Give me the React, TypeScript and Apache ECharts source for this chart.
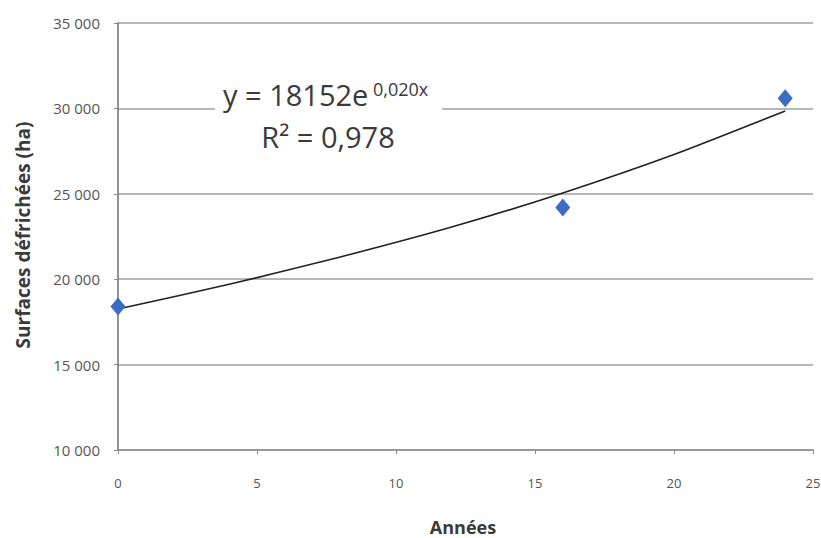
import React, { useEffect, useRef } from "react";
import * as echarts from "echarts";

// Observed data points (years, cleared surfaces in ha)
const years = [0, 16, 24];
const surfaces = [18400, 24200, 30600];

// Exponential trend line
const trendYears = [0, 4, 8, 12, 16, 20, 24];
const trendValues = [18250, 19700, 21300, 23050, 25050, 27300, 29850];

const xTicks = [0, 5, 10, 15, 20, 25];
const yTicks = [10000, 15000, 20000, 25000, 30000, 35000];

const xTitle = "Années";
const yTitle = "Surfaces défrichées (ha)";
const eqMain = "y = 18152e";
const eqExp = "0,020x";
const eqR2 = "R² = 0,978";

const FONT = "'Open Sans', 'DejaVu Sans', sans-serif";

function fmt(v: number): string {
  return String(v).replace(/\B(?=(\d{3})+(?!\d))/g, " ");
}

export default function App() {
  const ref = useRef<HTMLDivElement>(null);

  useEffect(() => {
    if (!ref.current) return;
    const chart = echarts.init(ref.current, null, { renderer: "svg" });
    const option: any = {
      animation: false,
      backgroundColor: "#ffffff",
      textStyle: { fontFamily: FONT },
      grid: {
        left: 118,
        right: 8,
        top: 23,
        bottom: 88,
        containLabel: false,
        outerBoundsMode: "none",
      },
      xAxis: {
        type: "value",
        min: xTicks[0],
        max: xTicks[xTicks.length - 1],
        interval: 5,
        axisLine: { show: true, lineStyle: { color: "#8f8f8f", width: 1.5 } },
        axisTick: { show: true, length: 4, lineStyle: { color: "#8a8a8a" } },
        axisLabel: {
          margin: 26,
          fontSize: 13,
          color: "#555555",
          fontFamily: FONT,
        },
        splitLine: { show: false },
      },
      yAxis: {
        type: "value",
        min: yTicks[0],
        max: yTicks[yTicks.length - 1],
        interval: 5000,
        axisLine: { show: true, lineStyle: { color: "#6f6f6f", width: 1.5 } },
        axisTick: { show: true, length: 4, lineStyle: { color: "#8a8a8a" } },
        axisLabel: {
          margin: 18,
          fontSize: 15,
          color: "#555555",
          fontFamily: FONT,
          formatter: (v: number) => fmt(v),
        },
        splitLine: { show: true, lineStyle: { color: "#a0a0a0", width: 1.5 } },
      },
      series: [
        {
          type: "line",
          data: trendYears.map((x, i) => [x, trendValues[i]]),
          smooth: 0.2,
          showSymbol: false,
          symbol: "none",
          lineStyle: { color: "#222222", width: 1.6, join: "round" },
          z: 3,
        },
        {
          type: "scatter",
          data: years.map((x, i) => [x, surfaces[i]]),
          symbol: "diamond",
          symbolSize: [15, 18],
          itemStyle: { color: "#3a6cc4", opacity: 1 },
          z: 5,
        },
      ],
      graphic: [
        {
          type: "rect",
          z: 10,
          shape: { x: 215, y: 76, width: 227, height: 84 },
          style: { fill: "#ffffff" },
        },
        {
          type: "text",
          z: 11,
          x: 223,
          y: 94,
          style: {
            text: eqMain,
            font: `29px ${FONT}`,
            fill: "#3a3a3a",
            align: "left",
            verticalAlign: "middle",
          },
        },
        {
          type: "text",
          z: 11,
          x: 373,
          y: 89,
          style: {
            text: eqExp,
            font: `18px ${FONT}`,
            fill: "#3a3a3a",
            align: "left",
            verticalAlign: "middle",
          },
        },
        {
          type: "text",
          z: 11,
          x: 328,
          y: 136,
          style: {
            text: eqR2,
            font: `29px ${FONT}`,
            fill: "#3a3a3a",
            align: "center",
            verticalAlign: "middle",
          },
        },
        {
          type: "text",
          z: 11,
          x: 463,
          y: 527,
          style: {
            text: xTitle,
            font: `bold 18px ${FONT}`,
            fill: "#3a3a3a",
            align: "center",
            verticalAlign: "middle",
          },
        },
        {
          type: "text",
          z: 11,
          x: 23,
          y: 235,
          rotation: Math.PI / 2,
          style: {
            text: yTitle,
            font: `bold 19px ${FONT}`,
            fill: "#3a3a3a",
            align: "center",
            verticalAlign: "middle",
          },
        },
      ],
    };
    chart.setOption(option);
    return () => chart.dispose();
  }, []);

  return (
    <div
      ref={ref}
      style={{ position: "fixed", left: 0, top: 0, width: 821, height: 538, background: "#fff" }}
    />
  );
}
